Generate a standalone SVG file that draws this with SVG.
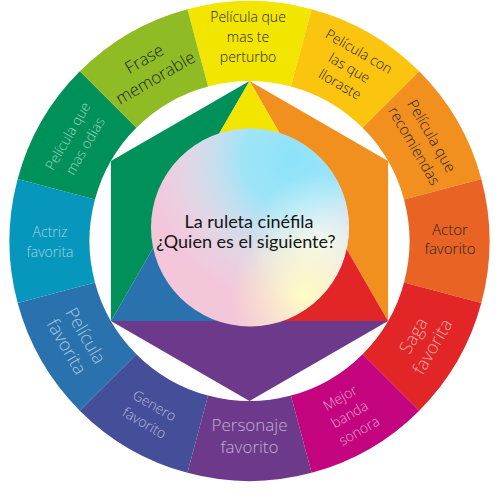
<svg xmlns="http://www.w3.org/2000/svg" width="500" height="500" viewBox="0 0 500 500">
  <defs>
    <radialGradient id="gCyan" cx="0.72" cy="0.15" r="0.75">
      <stop offset="0" stop-color="#8CE3F9" stop-opacity="1"/>
      <stop offset="0.35" stop-color="#9BE6F9" stop-opacity="0.95"/>
      <stop offset="0.7" stop-color="#C6ECF5" stop-opacity="0.45"/>
      <stop offset="1" stop-color="#E0E6F2" stop-opacity="0"/>
    </radialGradient>
    <radialGradient id="gYellow" cx="0.78" cy="0.84" r="0.38">
      <stop offset="0" stop-color="#FFFDC4" stop-opacity="1"/>
      <stop offset="1" stop-color="#FFFDC4" stop-opacity="0"/>
    </radialGradient>
    <radialGradient id="gWhite" cx="0.85" cy="0.58" r="0.35">
      <stop offset="0" stop-color="#F4FAF7" stop-opacity="0.9"/>
      <stop offset="1" stop-color="#F4FAF7" stop-opacity="0"/>
    </radialGradient>
    <style>
      .lbl { font-family: "Open Sans", "Liberation Sans", sans-serif; font-weight: 300; text-anchor: middle; }
      .dark { fill: #262626; }
      .light { fill: #FFFFFF; fill-opacity: 0.6; }
      .s { font-size: 14px; }
      .m { font-size: 15px; }
      .l { font-size: 18px; }
      .ctr { font-family: Lato, "Liberation Sans", sans-serif; font-size: 18px; fill: #151515; text-anchor: middle; }
    </style>
  </defs>

  <!-- outer ring segments -->
  <g id="seg-perturbo">
    <path d="M187.38,9.18 A240,240 0 0 1 311.62,9.18 L290.91,86.45 A160,160 0 0 0 208.09,86.45 Z" fill="#F2E500"/>
    <text class="lbl dark s" transform="translate(248,37)"><tspan x="0" y="-15">Película que</tspan><tspan x="0" y="5">mas te</tspan><tspan x="0" y="25">perturbo</tspan></text>
  </g>
  <g id="seg-lloraste">
    <path d="M311.62,9.18 A240,240 0 0 1 419.21,71.29 L362.64,127.86 A160,160 0 0 0 290.91,86.45 Z" fill="#FBC40F"/>
    <text class="lbl dark s" transform="translate(349.5,67.8) rotate(30)"><tspan x="0" y="-14">Película con</tspan><tspan x="0" y="5">las que</tspan><tspan x="0" y="24">lloraste</tspan></text>
  </g>
  <g id="seg-recomiendas">
    <path d="M419.21,71.29 A240,240 0 0 1 481.32,178.88 L404.05,199.59 A160,160 0 0 0 362.64,127.86 Z" fill="#F18F1F"/>
    <text class="lbl dark m" transform="translate(422.7,141) rotate(60)"><tspan x="0" y="-5">Película que</tspan><tspan x="0" y="15">recomiendas</tspan></text>
  </g>
  <g id="seg-actor">
    <path d="M481.32,178.88 A240,240 0 0 1 481.32,303.12 L404.05,282.41 A160,160 0 0 0 404.05,199.59 Z" fill="#E96324"/>
    <text class="lbl dark m" transform="translate(450,240)"><tspan x="0" y="-5">Actor</tspan><tspan x="0" y="14">favorito</tspan></text>
  </g>
  <g id="seg-saga">
    <path d="M481.32,303.12 A240,240 0 0 1 419.21,410.71 L362.64,354.14 A160,160 0 0 0 404.05,282.41 Z" fill="#E22526"/>
    <text class="lbl light l" transform="translate(422.7,341) rotate(-60)"><tspan x="0" y="-4.5">Saga</tspan><tspan x="0" y="17.5">favorita</tspan></text>
  </g>
  <g id="seg-banda">
    <path d="M419.21,410.71 A240,240 0 0 1 311.62,472.82 L290.91,395.55 A160,160 0 0 0 362.64,354.14 Z" fill="#C3047E"/>
    <text class="lbl light s" transform="translate(349.5,414.2) rotate(-30)"><tspan x="0" y="-14">Mejor</tspan><tspan x="0" y="5">banda</tspan><tspan x="0" y="24">sonora</tspan></text>
  </g>
  <g id="seg-personaje">
    <path d="M311.62,472.82 A240,240 0 0 1 187.38,472.82 L208.09,395.55 A160,160 0 0 0 290.91,395.55 Z" fill="#6C398B"/>
    <text class="lbl light" style="font-size:17px" transform="translate(249.5,436)"><tspan x="0" y="-5.5">Personaje</tspan><tspan x="0" y="16.5">favorito</tspan></text>
  </g>
  <g id="seg-genero">
    <path d="M187.38,472.82 A240,240 0 0 1 79.79,410.71 L136.36,354.14 A160,160 0 0 0 208.09,395.55 Z" fill="#454E99"/>
    <text class="lbl light s" transform="translate(149.5,414.2) rotate(30)"><tspan x="0" y="-5">Genero</tspan><tspan x="0" y="15">favorito</tspan></text>
  </g>
  <g id="seg-pelicula-favorita">
    <path d="M79.79,410.71 A240,240 0 0 1 17.68,303.12 L94.95,282.41 A160,160 0 0 0 136.36,354.14 Z" fill="#2A72AE"/>
    <text class="lbl light l" transform="translate(76.3,341) rotate(60)"><tspan x="0" y="-4.5">Película</tspan><tspan x="0" y="17.5">favorita</tspan></text>
  </g>
  <g id="seg-actriz">
    <path d="M17.68,303.12 A240,240 0 0 1 17.68,178.88 L94.95,199.59 A160,160 0 0 0 94.95,282.41 Z" fill="#0796BC"/>
    <text class="lbl light s" transform="translate(50,242)"><tspan x="0" y="-5">Actriz</tspan><tspan x="0" y="15">favorita</tspan></text>
  </g>
  <g id="seg-odias">
    <path d="M17.68,178.88 A240,240 0 0 1 79.79,71.29 L136.36,127.86 A160,160 0 0 0 94.95,199.59 Z" fill="#00905A"/>
    <text class="lbl light s" transform="translate(76.3,141) rotate(-60)"><tspan x="0" y="-5">Película que</tspan><tspan x="0" y="15">mas odias</tspan></text>
  </g>
  <g id="seg-frase">
    <path d="M79.79,71.29 A240,240 0 0 1 187.38,9.18 L208.09,86.45 A160,160 0 0 0 136.36,127.86 Z" fill="#8FBC25"/>
    <text class="lbl dark" style="font-size:17px" transform="translate(149.5,67.8) rotate(-30)"><tspan x="0" y="-4.5">Frase</tspan><tspan x="0" y="17.5">memorable</tspan></text>
  </g>

  <!-- inner hexagon -->
  <g id="hexagon">
    <polygon points="249.5,81 110.94,161 110.94,321" fill="#00905A"/>
    <polygon points="249.5,81 388.06,161 388.06,321" fill="#F18F1F"/>
    <polygon points="110.94,321 388.06,321 249.5,401" fill="#6C398B"/>
    <polygon points="249.5,81 180.2,201 249.5,241 318.8,201" fill="#F2E500"/>
    <polygon points="388.06,321 318.8,201 249.5,241 249.5,321" fill="#E22526"/>
    <polygon points="110.94,321 180.2,201 249.5,241 249.5,321" fill="#2A72AE"/>
  </g>

  <!-- center -->
  <g id="center">
    <circle cx="250" cy="227.5" r="99" fill="#F3C6DA"/>
    <circle cx="250" cy="227.5" r="99" fill="url(#gCyan)"/>
    <circle cx="250" cy="227.5" r="99" fill="url(#gWhite)"/>
    <circle cx="250" cy="227.5" r="99" fill="url(#gYellow)"/>
    <text class="ctr"><tspan x="249" y="228">La ruleta cinéfila</tspan><tspan x="246" y="248">¿Quien es el siguiente?</tspan></text>
  </g>

  <g id="connectors"/>
</svg>
